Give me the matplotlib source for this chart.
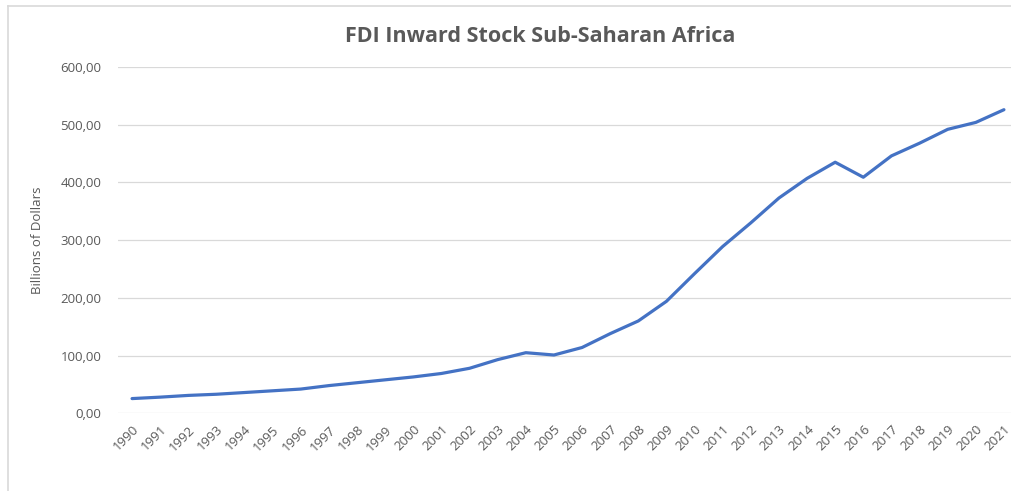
import numpy as np
import matplotlib
matplotlib.use("Agg")
import matplotlib.pyplot as plt
from matplotlib.lines import Line2D
from matplotlib.ticker import FuncFormatter

# data (billions of dollars)
years = [str(y) for y in range(1990, 2022)]
fdi_stock = [25.5, 28, 31, 33, 36, 39, 42, 48, 53, 58,
             63, 69, 78, 93, 105, 101, 114, 138, 160, 194,
             242, 289, 330, 373, 407, 435, 409, 446, 468, 492,
             504, 526]

title = "FDI Inward Stock Sub-Saharan Africa"
y_label = "Billions of Dollars"
y_ticks = [0, 100, 200, 300, 400, 500, 600]

grey_txt = "#595959"
grid_col = "#D9D9D9"
line_col = "#4472C4"

plt.rcParams['font.family'] = ['Open Sans', 'DejaVu Sans']

fig = plt.figure(figsize=(10.12, 4.91), dpi=100)
W, H = 1012, 491

# axes box in pixels: left 118, right ~1018, top 67, bottom 413
ax = fig.add_axes([118 / W, 1 - 413.3 / H, 900 / W, (413.3 - 67) / H])

x = np.arange(len(years))
ax.plot(x, fdi_stock, color=line_col, lw=2.3, solid_capstyle='round',
        solid_joinstyle='round', zorder=3)

ax.set_xlim(-0.5, len(years) - 0.5)
ax.set_ylim(0, 600)
ax.set_yticks(y_ticks)
ax.yaxis.set_major_formatter(FuncFormatter(lambda v, p: f"{v:.2f}".replace('.', ',')))
ax.set_xticks(x)
ax.set_xticklabels(years, rotation=45, ha='right', va='top', rotation_mode='anchor')

ax.grid(axis='y', color=grid_col, lw=0.9)
ax.set_axisbelow(True)
for s in ax.spines.values():
    s.set_visible(False)
ax.tick_params(length=0, colors=grey_txt, labelsize=9.5)
ax.tick_params(axis='y', pad=12)
ax.tick_params(axis='x', pad=7)

ax.set_ylabel(y_label, color=grey_txt, fontsize=9.5, labelpad=12)

fig.text(540 / W, 1 - 37 / H, title, ha='center', va='center',
         fontsize=15.5, fontweight='bold', color=grey_txt)

# chart border (cropped at right and bottom)
fig.add_artist(Line2D([8 / W, 8 / W], [0, 1 - 6 / H], transform=fig.transFigure,
                      color=grid_col, lw=1.2))
fig.add_artist(Line2D([8 / W, 1], [1 - 6 / H, 1 - 6 / H], transform=fig.transFigure,
                      color=grid_col, lw=1.2))

fig.savefig("out.png", dpi=100)
